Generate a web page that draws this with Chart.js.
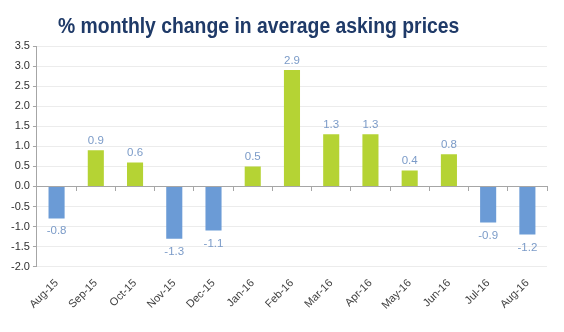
<html>
<head>
<script src="https://cdn.jsdelivr.net/npm/chart.js@4"></script>
<style>
  body { margin: 0; background: #fff; }
  #wrap { position: relative; width: 564px; height: 332px; }
  #title { position: absolute; left: 58px; top: 13px; font-family: "Liberation Sans", Arial, sans-serif;
           font-weight: bold; font-size: 22px; color: #1f3a68; white-space: nowrap;
           transform: scaleX(0.88); transform-origin: left top; }
</style>
</head>
<body>
<div id="wrap">
  <div id="title">% monthly change in average asking prices</div>
  <canvas id="myChart" width="564" height="332"></canvas>
</div>
<script>
var months = ['Aug-15','Sep-15','Oct-15','Nov-15','Dec-15','Jan-16','Feb-16','Mar-16','Apr-16','May-16','Jun-16','Jul-16','Aug-16'];
var changes = [-0.8, 0.9, 0.6, -1.3, -1.1, 0.5, 2.9, 1.3, 1.3, 0.4, 0.8, -0.9, -1.2];
var yTicks = [-2.0, -1.5, -1.0, -0.5, 0.0, 0.5, 1.0, 1.5, 2.0, 2.5, 3.0, 3.5];

var green = '#b5d334', blue = '#6b9bd6';

// value labels above / below each bar
var valueLabels = {
    id: 'valueLabels',
    afterDatasetsDraw: function (chart) {
        var ctx = chart.ctx;
        var meta = chart.getDatasetMeta(0);
        ctx.save();
        ctx.font = '11.5px "Liberation Sans", Arial, sans-serif';
        ctx.fillStyle = '#7b9bc8';
        ctx.textAlign = 'center';
        meta.data.forEach(function (bar, i) {
            var v = changes[i];
            if (v >= 0) {
                ctx.textBaseline = 'bottom';
                ctx.fillText(v.toFixed(1), bar.x, bar.y - 4);
            } else {
                ctx.textBaseline = 'top';
                ctx.fillText(v.toFixed(1), bar.x, bar.y + 7);
            }
        });
        ctx.restore();
    }
};

var ctx = document.getElementById('myChart').getContext('2d');
var chart = new Chart(ctx, {
    type: 'bar',
    data: {
        labels: months,
        datasets: [{
            data: changes,
            backgroundColor: changes.map(function (v) { return v >= 0 ? green : blue; }),
            barPercentage: 0.41,
            categoryPercentage: 1.0
        }]
    },
    options: {
        responsive: false,
        animation: false,
        layout: { padding: { top: 46, right: 17, bottom: 18, left: 8 } },
        plugins: { legend: { display: false }, tooltip: { enabled: false } },
        scales: {
            x: {
                position: 'bottom',
                grid: { display: false },
                border: { display: false },
                ticks: {
                    maxRotation: 45, minRotation: 45, padding: 2,
                    color: '#404040',
                    font: { family: '"Liberation Sans", Arial, sans-serif', size: 11 }
                }
            },
            x2: {
                type: 'category',
                labels: months,
                position: { y: 0 },
                offset: true,
                grid: { drawOnChartArea: false, drawTicks: true, tickLength: 4, color: '#a6a6a6', offset: true },
                border: { display: true, color: '#a6a6a6' },
                ticks: { display: false }
            },
            y: {
                min: -2, max: 3.5,
                afterBuildTicks: function (axis) {
                    axis.ticks = yTicks.map(function (v) { return { value: v }; });
                },
                grid: { color: '#ececec', tickLength: 4, tickColor: '#a6a6a6' },
                border: { display: true, color: '#a6a6a6' },
                ticks: {
                    color: '#303030', padding: 3,
                    font: { family: '"Liberation Sans", Arial, sans-serif', size: 11 },
                    callback: function (v) { return Number(v).toFixed(1); }
                }
            }
        }
    },
    plugins: [valueLabels]
});
</script>
</body>
</html>
